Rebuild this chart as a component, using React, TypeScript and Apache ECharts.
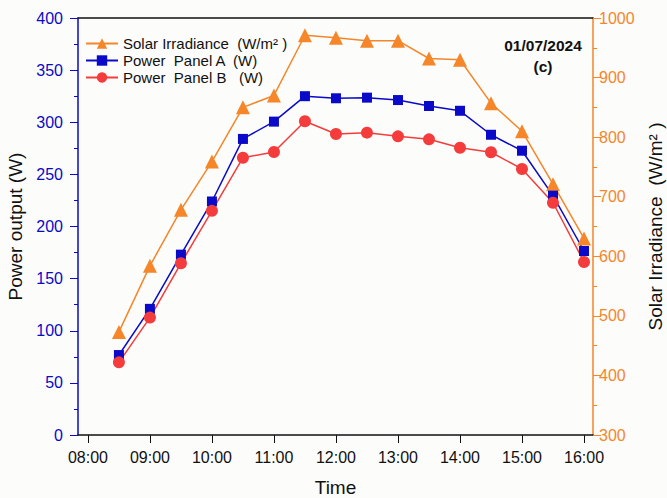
import React, { useEffect, useRef } from "react";
import * as echarts from "echarts";

const times = ["08:30","09:00","09:30","10:00","10:30","11:00","11:30","12:00","12:30","13:00","13:30","14:00","14:30","15:00","15:30","16:00"];
const irradiance = [473, 584, 678, 759, 850, 870, 971, 967, 962, 962, 932, 930, 857, 810, 721, 630];
const panelA = [76.7, 121, 173, 224, 284, 300.6, 325, 323, 323.6, 321.3, 315.6, 311, 288, 272.7, 229.6, 176.5];
const panelB = [69.7, 112.6, 164.7, 215, 266, 271.5, 301, 288.7, 290, 286.5, 283.6, 275.6, 271.2, 255.2, 222.8, 166];
const hourTicks = [8, 9, 10, 11, 12, 13, 14, 15, 16];
const leftTicks = [0, 50, 100, 150, 200, 250, 300, 350, 400];
const rightTicks = [300, 400, 500, 600, 700, 800, 900, 1000];

const toHours = (t: string) => {
  const [h, m] = t.split(":").map(Number);
  return h + m / 60;
};
const fmt = (v: number) => (v < 10 ? "0" : "") + Math.round(v) + ":00";

const ORANGE = "#f5862a";
const BLUE = "#0a0ac8";
const RED = "#f43c3c";
const FONT = "Liberation Sans, Arial, sans-serif";

export default function App() {
  const ref = useRef<HTMLDivElement>(null);
  useEffect(() => {
    if (!ref.current) return;
    const chart = echarts.init(ref.current, null, { renderer: "svg" });
    const xs = times.map(toHours);
    chart.setOption({
      animation: false,
      backgroundColor: "#fcfcfa",
      textStyle: { fontFamily: FONT },
      grid: { left: 78, right: 74, top: 18, bottom: 63, containLabel: false, outerBoundsMode: "none" },
      legend: {
        orient: "vertical",
        left: 80,
        top: 31,
        itemWidth: 32,
        itemHeight: 13,
        itemGap: 2,
        textStyle: { fontFamily: FONT, fontSize: 15, color: "#111" },
        data: ["Solar Irradiance  (W/m² )", "Power  Panel A  (W)", "Power  Panel B   (W)"],
      },
      xAxis: [
        {
          type: "value",
          min: 7.84,
          max: 16.145,
          name: "Time",
          nameLocation: "middle",
          nameGap: 43,
          nameTextStyle: { fontSize: 19, color: "#111", fontFamily: FONT },
          axisLine: { show: true, lineStyle: { color: "#111", width: 1.5 } },
          axisTick: { show: true, customValues: hourTicks, length: 8, lineStyle: { color: "#111" } },
          axisLabel: { customValues: hourTicks, formatter: (v: number) => fmt(v), fontSize: 16, color: "#111", margin: 14, fontFamily: FONT },
          splitLine: { show: false },
        },
        {
          type: "value",
          position: "top",
          min: 7.84,
          max: 16.145,
          axisLine: { show: true, lineStyle: { color: "#111", width: 1.5 } },
          axisTick: { show: false },
          axisLabel: { show: false },
          splitLine: { show: false },
        },
      ],
      yAxis: [
        {
          type: "value",
          min: 0,
          max: 400,
          interval: 50,
          position: "left",
          name: "Power output (W)",
          nameLocation: "middle",
          nameRotate: 90,
          nameGap: 42,
          nameTextStyle: { fontSize: 19, color: "#111", fontFamily: FONT },
          axisLine: { show: true, lineStyle: { color: BLUE, width: 1.5 } },
          axisTick: { show: true, length: 8, lineStyle: { color: BLUE } },
          minorTick: { show: true, splitNumber: 2, length: 4, lineStyle: { color: BLUE } },
          axisLabel: { customValues: leftTicks, fontSize: 16, color: BLUE, margin: 15, fontFamily: FONT },
          splitLine: { show: false },
        },
        {
          type: "value",
          min: 300,
          max: 1000,
          interval: 100,
          position: "right",
          name: "Solar Irradiance  (W/m² )",
          nameLocation: "middle",
          nameRotate: 90,
          nameGap: 53,
          nameTextStyle: { fontSize: 19, color: "#111", fontFamily: FONT },
          axisLine: { show: true, lineStyle: { color: ORANGE, width: 1.5 } },
          axisTick: { show: true, length: 8, lineStyle: { color: ORANGE } },
          minorTick: { show: true, splitNumber: 2, length: 4, lineStyle: { color: ORANGE } },
          axisLabel: { customValues: rightTicks, formatter: (v: number) => String(v), fontSize: 16, color: ORANGE, margin: 6, fontFamily: FONT },
          splitLine: { show: false },
        },
      ],
      series: [
        {
          name: "Solar Irradiance  (W/m² )",
          type: "line",
          yAxisIndex: 1,
          data: xs.map((x, i) => [x, irradiance[i]]),
          symbol: "triangle",
          symbolSize: 14,
          itemStyle: { color: ORANGE },
          lineStyle: { color: ORANGE, width: 1.5 },
        },
        {
          name: "Power  Panel A  (W)",
          type: "line",
          yAxisIndex: 0,
          data: xs.map((x, i) => [x, panelA[i]]),
          symbol: "rect",
          symbolSize: 10,
          itemStyle: { color: BLUE },
          lineStyle: { color: BLUE, width: 1.5 },
        },
        {
          name: "Power  Panel B   (W)",
          type: "line",
          yAxisIndex: 0,
          data: xs.map((x, i) => [x, panelB[i]]),
          symbol: "circle",
          symbolSize: 12,
          itemStyle: { color: RED },
          lineStyle: { color: RED, width: 1.5 },
        },
      ],
      graphic: [
        {
          type: "text",
          x: 543,
          y: 37,
          style: { text: "01/07/2024", font: "bold 15.5px Liberation Sans, Arial, sans-serif", fill: "#111", textAlign: "center" },
        },
        {
          type: "text",
          x: 543,
          y: 58,
          style: { text: "(c)", font: "bold 15.5px Liberation Sans, Arial, sans-serif", fill: "#111", textAlign: "center" },
        },
      ],
    });
    return () => chart.dispose();
  }, []);
  return <div ref={ref} style={{ position: "fixed", left: 0, top: 0, width: 667, height: 498 }} />;
}
